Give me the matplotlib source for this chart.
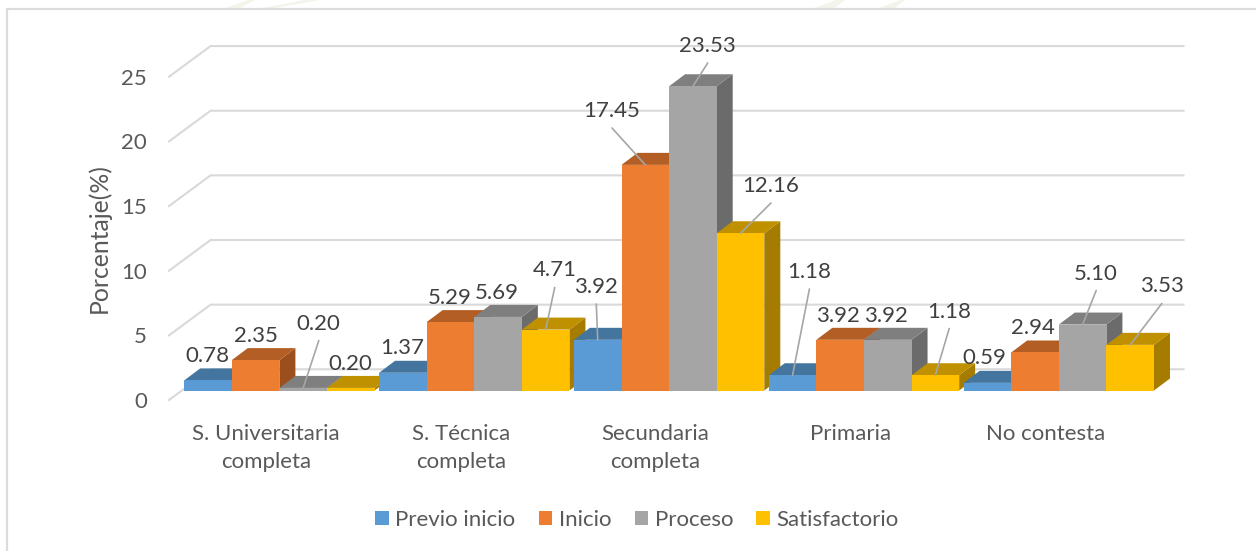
"""Grouped pseudo-3D bar chart: Porcentaje(%) by schooling level and achievement."""
import matplotlib

matplotlib.use("Agg")
import matplotlib.pyplot as plt  # noqa: E402
from matplotlib.lines import Line2D  # noqa: E402
from matplotlib.patches import Polygon  # noqa: E402

categories = ["S. Universitaria\ncompleta", "S. Técnica\ncompleta", "Secundaria\ncompleta",
              "Primaria", "No contesta"]
series = ["Previo inicio", "Inicio", "Proceso", "Satisfactorio"]
previo_inicio = [0.78, 1.37, 3.92, 1.18, 0.59]
inicio = [2.35, 5.29, 17.45, 3.92, 2.94]
proceso = [0.20, 5.69, 23.53, 3.92, 5.10]
satisfactorio = [0.20, 4.71, 12.16, 1.18, 3.53]
y_ticks = [0, 5, 10, 15, 20, 25]

front_colors = ["#5B9BD5", "#ED7D31", "#A5A5A5", "#FFC000"]
top_colors = ["#44759F", "#B35E24", "#7F7F7F", "#BF9000"]
side_colors = ["#3A6488", "#9B4F1D", "#6B6B6B", "#A67C00"]
GRID = "#D9D9D9"
AXIS_TEXT = "#595959"
LABEL_TEXT = "#404040"
LEADER = "#A6A6A6"
FONT_SIZE = 16

W, H = 1256, 551
# pixel layout of the reference
X0, GROUP_PX, BAR_PX = 184.2, 194.85, 47.6
Y0, UNIT_PX = 390.5, 12.93
LEFT, RIGHT, TOP, BOTTOM = 169.0, 1183.5, 40.0, 400.0
BAR_W = BAR_PX / GROUP_PX
DEPTH_X, DEPTH_Y = 16 / GROUP_PX, 12 / UNIT_PX
WALL_X = (210.6 - LEFT) / GROUP_PX
WALL_Y = (400 - 369.3) / UNIT_PX
FLOOR = (Y0 - BOTTOM) / UNIT_PX
TICK_SHIFT = 13.5 / GROUP_PX  # category labels sit on the front of the floor

# label centres in pixels, [series][group]
label_xy = [
    [(207.9, 356.5), (402.5, 348.5), (596.3, 287.0), (809.4, 272.0), (984.8, 358.5)],
    [(255.5, 336.5), (449.7, 297.5), (612.0, 111.0), (837.9, 316.0), (1032.5, 328.5)],
    [(318.8, 323.5), (497.0, 293.0), (707.7, 46.0), (885.5, 316.0), (1096.2, 273.5)],
    [(350.4, 363.5), (554.7, 270.5), (771.0, 186.0), (949.2, 311.5), (1161.8, 286.5)],
]
# which labels get a leader line to their bar
leaders = [(2, 0), (3, 1), (0, 2), (1, 2), (2, 2), (3, 2), (0, 3), (3, 3), (2, 4), (3, 4)]


def main():
    plt.rcParams["font.family"] = ["Lato", "DejaVu Sans"]
    fig = plt.figure(figsize=(W / 100, H / 100), dpi=100, facecolor="white")
    ax = fig.add_axes([LEFT / W, 1 - BOTTOM / H, (RIGHT - LEFT) / W, (BOTTOM - TOP) / H])
    ax.set_xlim((LEFT - X0) / GROUP_PX, (RIGHT - X0) / GROUP_PX)
    ax.set_ylim(FLOOR, (Y0 - TOP) / UNIT_PX)
    ax.patch.set_visible(False)
    for s in ax.spines.values():
        s.set_visible(False)

    # walls: back gridlines and the slanted side lines
    x_left, x_right = ax.get_xlim()
    for v in y_ticks:
        ax.plot([x_left, x_left + WALL_X, x_right], [FLOOR + v, FLOOR + v + WALL_Y, FLOOR + v + WALL_Y],
                color=GRID, lw=1.5, zorder=1, clip_on=False, solid_joinstyle="miter")

    # bars, painted left to right so each one hides the side of the previous
    values = [previo_inicio, inicio, proceso, satisfactorio]
    order = 2
    handles = []
    for g in range(len(categories)):
        for i in range(len(series)):
            v = values[i][g]
            x = g + i * BAR_W
            top = [(x, v), (x + BAR_W, v), (x + BAR_W + DEPTH_X, v + DEPTH_Y), (x + DEPTH_X, v + DEPTH_Y)]
            side = [(x + BAR_W, 0), (x + BAR_W + DEPTH_X, DEPTH_Y),
                    (x + BAR_W + DEPTH_X, v + DEPTH_Y), (x + BAR_W, v)]
            ax.add_patch(Polygon(side, closed=True, fc=side_colors[i], ec="none", zorder=order))
            ax.add_patch(Polygon(top, closed=True, fc=top_colors[i], ec="none", zorder=order))
            b = ax.bar(x, v, BAR_W, align="edge", color=front_colors[i], zorder=order + 0.5)
            if g == 0:
                handles.append(b[0])
            order += 1

    # data labels
    for i in range(len(series)):
        for g in range(len(categories)):
            px, py = label_xy[i][g]
            if (i, g) in leaders:
                ax.annotate("", xy=(g + (i + 0.5) * BAR_W, values[i][g]), xycoords="data",
                            xytext=(px, H - py - 17), textcoords="figure pixels",
                            arrowprops=dict(arrowstyle="-", color=LEADER, lw=1.2, shrinkA=0, shrinkB=0),
                            zorder=100, annotation_clip=False)
            ax.annotate(f"{values[i][g]:.2f}", xy=(px, H - py), xycoords="figure pixels",
                        ha="center", va="center", fontsize=FONT_SIZE, color=LABEL_TEXT, zorder=101)

    # axes text
    ax.set_yticks([FLOOR + v for v in y_ticks], [str(v) for v in y_ticks])
    ax.set_xticks([g + 2 * BAR_W - TICK_SHIFT for g in range(len(categories))], categories)
    ax.tick_params(axis="both", length=0, labelsize=FONT_SIZE, labelcolor=AXIS_TEXT)
    ax.tick_params(axis="y", pad=16)
    ax.tick_params(axis="x", pad=17)
    for lab in ax.get_xticklabels():
        lab.set_linespacing(1.55)
        lab.set_verticalalignment("top")
    for lab in ax.get_yticklabels():
        lab.set_verticalalignment("center_baseline")
    ax.set_ylabel("Porcentaje(%)", fontsize=17.8, color=AXIS_TEXT)
    ax.yaxis.set_label_coords((111 - LEFT) / (RIGHT - LEFT), (BOTTOM - 238) / (BOTTOM - TOP))

    fig.legend(handles, series, ncol=4, loc="center", bbox_to_anchor=(637 / W, 1 - 520 / H),
               frameon=False, fontsize=FONT_SIZE, labelcolor=AXIS_TEXT, handlelength=0.6, handleheight=0.6,
               handletextpad=0.3, columnspacing=1.05)

    # chart frame and the faint watermark showing above it
    fig.add_artist(Line2D([7 / W, 7 / W, 1], [0, 1 - 9 / H, 1 - 9 / H], color="#DCDCDC", lw=1.6,
                          solid_joinstyle="miter"))
    for xs in ([226, 240, 255, 248], [262, 275, 320, 305], [815, 835, 845, 835], [880, 895, 905, 900]):
        fig.add_artist(Polygon([(xs[0] / W, 1 - 8 / H), (xs[1] / W, 1 - 8 / H), (xs[2] / W, 1), (xs[3] / W, 1)],
                               closed=True, fc="#F4F4EC", ec="none", transform=fig.transFigure, zorder=-1))

    fig.savefig("out.png", dpi=100)
    plt.close(fig)


if __name__ == "__main__":
    main()
